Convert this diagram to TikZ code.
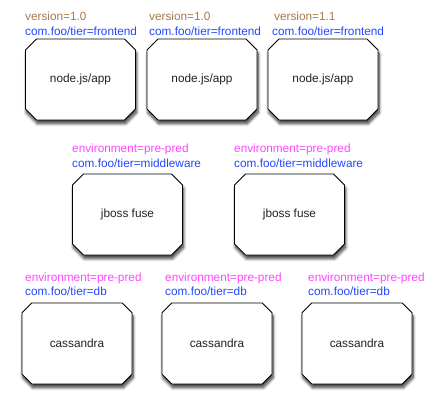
\documentclass[tikz,border=0pt]{standalone}
\usepackage{fontspec}
\setmainfont{Liberation Sans}
\usetikzlibrary{shapes.misc,shadows.blur}
\definecolor{vercol}{HTML}{A47A4C}
\definecolor{tiercol}{HTML}{2346FF}
\definecolor{envcol}{HTML}{FF45FF}
\definecolor{boxtext}{HTML}{222222}
\tikzset{
  box/.style={chamfered rectangle, chamfered rectangle xsep=5.5pt, chamfered rectangle ysep=5.5pt,
    draw=black, line width=0.9pt, fill=white, minimum width=110pt, minimum height=81pt,
    inner sep=0pt, text=boxtext, font=\fontsize{11.8}{14}\selectfont,
    blur shadow={shadow xshift=1pt, shadow yshift=-3.5pt, shadow blur radius=3pt, shadow blur steps=10, shadow opacity=80}},
  lbl/.style={anchor=base west, inner sep=0pt, font=\fontsize{11.8}{14}\selectfont},
  ver/.style={lbl, text=vercol},
  tier/.style={lbl, text=tiercol},
  env/.style={lbl, text=envcol}
}
\begin{document}
\begin{tikzpicture}[x=1pt,y=-1pt]
\useasboundingbox (0,0) rectangle (437,410);
% top row
\node[box] (a1) at (80.5,79.5) {node.js/app};
\node[box] (a2) at (202,79.5) {node.js/app};
\node[box] (a3) at (323,79.5) {node.js/app};
\node[ver]  (a1v) at (25,20) {version=1.0};
\node[tier] (a1t) at (25,35) {com.foo/tier=frontend};
\node[ver]  (a2v) at (149,20) {version=1.0};
\node[tier] (a2t) at (149,35) {com.foo/tier=frontend};
\node[ver]  (a3v) at (274,20) {version=1.1};
\node[tier] (a3t) at (272,35) {com.foo/tier=frontend};
% middle row
\node[box] (b1) at (127.5,214.5) {jboss fuse};
\node[box] (b2) at (289.5,214.5) {jboss fuse};
\node[env]  (b1e) at (72,152) {environment=pre-pred};
\node[tier] (b1t) at (72,167.5) {com.foo/tier=middleware};
\node[env]  (b2e) at (234,152) {environment=pre-pred};
\node[tier] (b2t) at (234,167.5) {com.foo/tier=middleware};
% bottom row
\node[box] (c1) at (77,343.5) {cassandra};
\node[box] (c2) at (217,343.5) {cassandra};
\node[box] (c3) at (357,343.5) {cassandra};
\node[env]  (c1e) at (25,281.5) {environment=pre-pred};
\node[tier] (c1t) at (25,295.5) {com.foo/tier=db};
\node[env]  (c2e) at (165,281.5) {environment=pre-pred};
\node[tier] (c2t) at (165,295.5) {com.foo/tier=db};
\node[env]  (c3e) at (308,281.5) {environment=pre-pred};
\node[tier] (c3t) at (308,295.5) {com.foo/tier=db};
\end{tikzpicture}
\end{document}
